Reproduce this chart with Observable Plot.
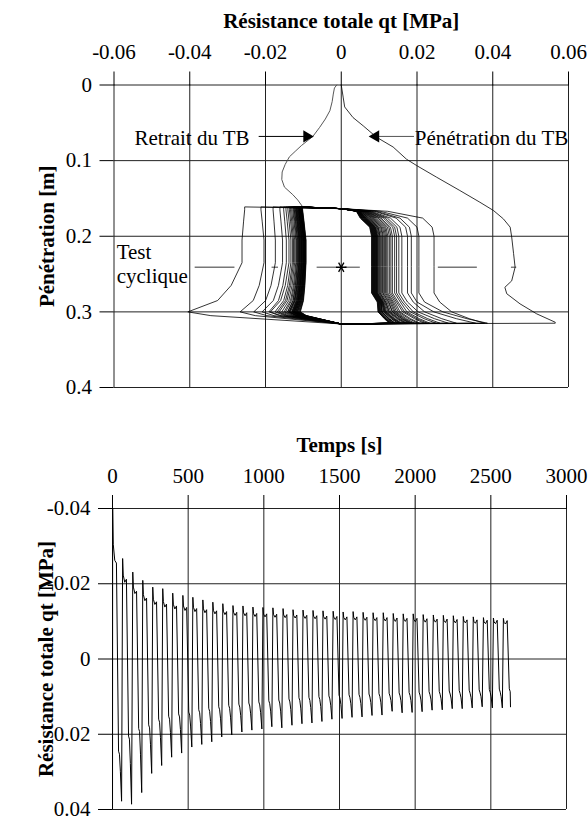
<!DOCTYPE html>
<html><head><meta charset="utf-8">
<script src="https://cdn.jsdelivr.net/npm/d3@7"></script>
<script src="https://cdn.jsdelivr.net/npm/@observablehq/plot@0.6"></script>
<style>
body{margin:0;background:#fff;}
#wrap{position:relative;width:588px;height:817px;}
#topChart,#botChart{position:absolute;left:0;}
#topChart{top:0;} #botChart{top:400px;}
svg, svg text{font-family:"Liberation Serif","DejaVu Serif",serif !important;}
</style></head><body><div id="wrap"><div id="topChart"></div><div id="botChart"></div></div>
<script>
// ---------- tick values ----------
const xTicksTop = [-0.06, -0.04, -0.02, 0, 0.02, 0.04, 0.06];
const yTicksTop = [0, 0.1, 0.2, 0.3, 0.4];
const xTicksBot = [0, 500, 1000, 1500, 2000, 2500, 3000];
const yTicksBot = [-0.04, -0.02, 0, 0.02, 0.04];

// ---------- initial penetration (qt MPa, depth m) ----------
const penQt    = [0, 0.0005, 0.0009, 0.0031, 0.0058, 0.0093, 0.0137, 0.0172, 0.0199, 0.0252, 0.0313, 0.0366, 0.0402, 0.0428, 0.0446, 0.0450, 0.0455, 0.0459, 0.0450, 0.0432, 0.0437, 0.0472, 0.0516, 0.0565];
const penDepth = [0, 0.016, 0.029, 0.043, 0.054, 0.069, 0.082, 0.098, 0.1065, 0.122, 0.1395, 0.155, 0.166, 0.177, 0.188, 0.201, 0.223, 0.241, 0.259, 0.2675, 0.276, 0.2894, 0.3026, 0.3137];

// ---------- final withdrawal ----------
const retDepth = [0.161, 0.152, 0.145, 0.135, 0.125, 0.115, 0.105, 0.095, 0.087, 0.080, 0.068, 0.056, 0.045, 0.034, 0.022, 0.012, 0.004, 0];
const retQt    = [-0.0102, -0.0115, -0.0128, -0.0150, -0.0157, -0.0156, -0.0148, -0.0137, -0.0120, -0.0105, -0.0075, -0.0057, -0.0042, -0.0030, -0.0024, -0.0021, -0.0018, -0.0012];

// ---------- cyclic test: one entry per cycle ----------
const cycleTime = [0, 66, 133, 199, 265, 331, 397, 464, 530, 596, 662, 728, 795, 861, 927, 993, 1059, 1126, 1192, 1258, 1324, 1390, 1457, 1523, 1589, 1655, 1721, 1788, 1854, 1920, 1986, 2052, 2119, 2185, 2251, 2317, 2383, 2450, 2516, 2582];
const negPeak = [-0.0405, -0.0267, -0.0231, -0.0209, -0.0191, -0.0187, -0.0175, -0.0169, -0.0164, -0.0157, -0.0151, -0.0147, -0.0142, -0.0141, -0.0138, -0.0137, -0.0136, -0.0134, -0.0131, -0.0130, -0.0129, -0.0128, -0.0127, -0.0125, -0.0126, -0.0124, -0.0123, -0.0123, -0.0121, -0.0120, -0.0120, -0.0118, -0.0117, -0.0116, -0.0115, -0.0113, -0.0112, -0.0110, -0.0109, -0.0108];
const negMid  = [-0.0262, -0.0204, -0.0174, -0.0155, -0.0145, -0.0138, -0.0133, -0.0129, -0.0126, -0.0123, -0.0120, -0.0118, -0.0116, -0.0115, -0.0113, -0.0112, -0.0111, -0.0110, -0.0109, -0.0108, -0.0107, -0.0106, -0.0105, -0.0104, -0.0104, -0.0103, -0.0102, -0.0101, -0.0100, -0.0100, -0.0099, -0.0098, -0.0098, -0.0097, -0.0096, -0.0096, -0.0095, -0.0094, -0.0094, -0.0093];
const negEnd  = [-0.0255, -0.0212, -0.0180, -0.0162, -0.0152, -0.0146, -0.0141, -0.0137, -0.0134, -0.0131, -0.0128, -0.0126, -0.0124, -0.0123, -0.0121, -0.0120, -0.0119, -0.0118, -0.0117, -0.0116, -0.0115, -0.0114, -0.0113, -0.0112, -0.0112, -0.0111, -0.0110, -0.0110, -0.0109, -0.0108, -0.0108, -0.0107, -0.0106, -0.0106, -0.0105, -0.0104, -0.0104, -0.0103, -0.0103, -0.0102];
const posLevel = [0.0245, 0.0205, 0.0185, 0.0175, 0.0160, 0.0152, 0.0146, 0.0141, 0.0135, 0.0131, 0.0127, 0.0123, 0.0120, 0.0117, 0.0114, 0.0111, 0.0109, 0.0106, 0.0103, 0.0102, 0.0100, 0.0098, 0.0096, 0.0095, 0.0094, 0.0093, 0.0092, 0.0091, 0.0090, 0.0089, 0.0088, 0.0087, 0.0086, 0.0085, 0.0084, 0.0083, 0.0082, 0.0081, 0.0080, 0.0079];
const posPeak  = [0.0378, 0.0386, 0.0355, 0.0304, 0.0283, 0.0261, 0.0250, 0.0234, 0.0227, 0.0220, 0.0207, 0.0202, 0.0194, 0.0189, 0.0186, 0.0180, 0.0183, 0.0176, 0.0172, 0.0170, 0.0166, 0.0160, 0.0158, 0.0155, 0.0154, 0.0150, 0.0149, 0.0139, 0.0143, 0.0142, 0.0140, 0.0136, 0.0135, 0.0132, 0.0132, 0.0130, 0.0127, 0.0130, 0.0130, 0.0127];
const endTime = 2630;

// ---------- annotations ----------
const testSegStart = [-0.0387, -0.0184, -0.0065, 0.0009, 0.0255, 0.0448];
const testSegEnd   = [-0.0282, -0.0167, -0.0013, 0.0049, 0.0358, 0.0462];
const testDepth = 0.241;

const lerp = (a, b, t) => a + (b - a) * t;

// ---------- build top-panel path (qt vs depth) ----------
const loop = penQt.map((q, i) => ({q, d: penDepth[i]}));
let prevTip = penQt[penQt.length - 1];
const N = cycleTime.length;
for (let k = 0; k < N; k++) {
  const p = negPeak[k], m = negMid[k], e = negEnd[k];
  loop.push({q: prevTip, d: 0.3150});
  loop.push({q: 0, d: 0.3160});
  loop.push({q: p * 0.85, d: 0.3050});
  loop.push({q: p, d: 0.3000});
  loop.push({q: lerp(p, m, 0.55), d: 0.2850});
  loop.push({q: lerp(p, m, 0.8), d: 0.2650});
  loop.push({q: m, d: 0.2350});
  loop.push({q: m, d: 0.2050});
  loop.push({q: lerp(m, e, 0.6), d: 0.1800});
  loop.push({q: e, d: 0.1650});
  loop.push({q: e, d: 0.1612});
  if (k === N - 1) break;
  const L = posLevel[k], P = posPeak[k];
  loop.push({q: 0, d: 0.1635});
  loop.push({q: L * 0.5, d: 0.1670});
  loop.push({q: L - 0.003, d: 0.1760});
  loop.push({q: L - 0.0005, d: 0.1880});
  loop.push({q: L, d: 0.2000});
  loop.push({q: L, d: 0.2400});
  loop.push({q: L, d: 0.2750});
  loop.push({q: L + 0.0015, d: 0.2870});
  loop.push({q: lerp(L, P, 0.35), d: 0.3000});
  loop.push({q: lerp(L, P, 0.7), d: 0.3090});
  loop.push({q: P, d: 0.3150});
  prevTip = P;
}
const retrait = retQt.map((q, i) => ({q, d: retDepth[i]}));

// ---------- build bottom-panel path (qt vs time) ----------
const series = [{t: 0, q: penQt[penQt.length - 1]}];
for (let k = 0; k < N; k++) {
  const t0 = cycleTime[k];
  const p = negPeak[k], m = negMid[k], e = negEnd[k], L = posLevel[k], P = posPeak[k];
  series.push({t: t0 + 1, q: p});
  series.push({t: t0 + 5, q: lerp(p, m, 0.7)});
  series.push({t: t0 + 15, q: m});
  series.push({t: t0 + 26, q: e});
  series.push({t: t0 + 40, q: L});
  series.push({t: t0 + 46, q: L + 0.0008});
  if (k === N - 1) { series.push({t: endTime, q: P}); break; }
  series.push({t: t0 + 52, q: lerp(L, P, 0.4)});
  series.push({t: t0 + 60, q: P});
}

const font = '"Liberation Serif","DejaVu Serif",serif';
const fmt = d => String(d);
const gridColor = "#222";

// ---------- top chart ----------
const topPlot = Plot.plot({
  width: 588, height: 400,
  marginTop: 84.5, marginLeft: 113.5, marginRight: 20, marginBottom: 13,
  style: {fontFamily: font, fontSize: "21px", color: "black", background: "white"},
  x: {domain: [-0.06, 0.06]},
  y: {domain: [0, 0.4], reverse: true},
  marks: [
    Plot.gridX(xTicksTop, {stroke: gridColor, strokeOpacity: 1}),
    Plot.gridY(yTicksTop, {stroke: gridColor, strokeOpacity: 1}),
    Plot.axisX(xTicksTop, {anchor: "top", tickSize: 14, tickPadding: 12, tickFormat: fmt, label: null, fontSize: 21}),
    Plot.axisY(yTicksTop, {anchor: "left", tickSize: 14, tickPadding: 8, tickFormat: fmt, label: null, fontSize: 21}),
    Plot.text(["Résistance totale qt [MPa]"], {frameAnchor: "top", lineAnchor: "middle", dy: -64, fontWeight: "bold", fontSize: 21}),
    Plot.text(["Pénétration [m]"], {frameAnchor: "left", textAnchor: "middle", lineAnchor: "middle", dx: -67, rotate: -90, fontWeight: "bold", fontSize: 21}),
    Plot.link(testSegStart.map((s, i) => ({s, e: testSegEnd[i]})), {x1: "s", x2: "e", y1: () => testDepth, y2: () => testDepth, stroke: "#777", strokeWidth: 1.4}),
    Plot.line(retrait, {x: "q", y: "d", stroke: "#444", strokeWidth: 0.9}),
    Plot.line(loop, {x: "q", y: "d", stroke: "black", strokeWidth: 0.8, clip: true}),
    Plot.dot([{q: 0, d: testDepth}], {x: "q", y: "d", symbol: "asterisk", r: 5, stroke: "black", strokeWidth: 1.3, rotate: 90}),
    Plot.link([{a: -0.0218, b: -0.0095, d: 0.068}], {x1: "a", x2: "b", y1: "d", y2: "d", stroke: "black", strokeWidth: 1}),
    Plot.dot([{q: -0.0083, d: 0.068}], {x: "q", y: "d", symbol: "triangle", rotate: 90, r: 4.5, fill: "black", dx: -3}),
    Plot.link([{a: 0.0192, b: 0.0095, d: 0.068}], {x1: "a", x2: "b", y1: "d", y2: "d", stroke: "#555", strokeWidth: 1}),
    Plot.dot([{q: 0.0083, d: 0.068}], {x: "q", y: "d", symbol: "triangle", rotate: -90, r: 4.5, fill: "black", dx: 3}),
    Plot.text([{q: -0.0242, d: 0.070, s: "Retrait du TB"}], {x: "q", y: "d", text: "s", textAnchor: "end", fontSize: 21}),
    Plot.text([{q: 0.0194, d: 0.070, s: "Pénétration du TB"}], {x: "q", y: "d", text: "s", textAnchor: "start", fontSize: 21}),
    Plot.text([{q: -0.0593, d: 0.221, s: "Test"}, {q: -0.0593, d: 0.253, s: "cyclique"}], {x: "q", y: "d", text: "s", textAnchor: "start", fontSize: 21})
  ]
});
document.getElementById("topChart").append(topPlot);

// ---------- bottom chart ----------
const botPlot = Plot.plot({
  width: 588, height: 417,
  marginTop: 108, marginLeft: 112, marginRight: 22, marginBottom: 8,
  style: {fontFamily: font, fontSize: "21px", color: "black", background: "white"},
  x: {domain: [0, 3000]},
  y: {domain: [-0.04, 0.04], reverse: true},
  marks: [
    Plot.gridX(xTicksBot, {stroke: gridColor, strokeOpacity: 1}),
    Plot.gridY(yTicksBot, {stroke: gridColor, strokeOpacity: 1}),
    Plot.axisX(xTicksBot, {anchor: "top", tickSize: 14, tickPadding: 12, tickFormat: fmt, label: null, fontSize: 21}),
    Plot.axisY(yTicksBot, {anchor: "left", tickSize: 14, tickPadding: 8, tickFormat: fmt, label: null, fontSize: 21}),
    Plot.text(["Temps [s]"], {frameAnchor: "top", lineAnchor: "middle", dy: -63, fontWeight: "bold", fontSize: 21}),
    Plot.text(["Résistance totale qt [MPa]"], {frameAnchor: "left", textAnchor: "middle", lineAnchor: "middle", dx: -66, rotate: -90, fontWeight: "bold", fontSize: 21}),
    Plot.line(series, {x: "t", y: "q", stroke: "black", strokeWidth: 1, clip: true})
  ]
});
document.getElementById("botChart").append(botPlot);
</script></body></html>
